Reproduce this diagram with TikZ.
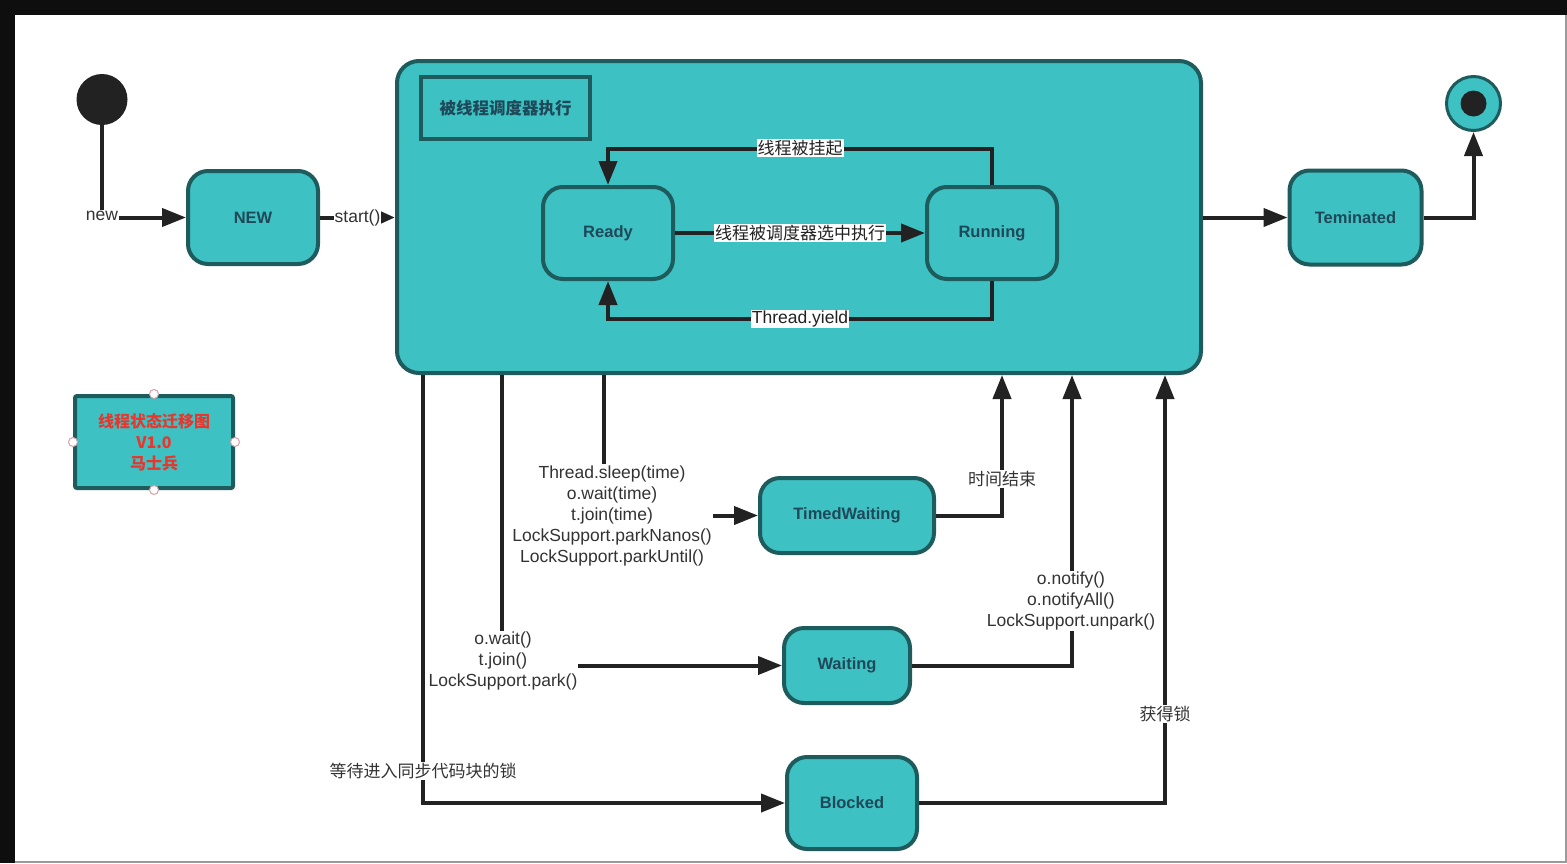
\documentclass[tikz,border=0pt]{standalone}
\usepackage{fontspec}
\setmainfont{Liberation Sans}
\newfontfamily\cjk{Noto Sans CJK SC}
\usetikzlibrary{arrows.meta}
\definecolor{tealfill}{HTML}{3EC1C3}
\definecolor{tealline}{HTML}{1E5B5D}
\definecolor{statetext}{HTML}{1F4858}
\definecolor{ink}{HTML}{222222}
\definecolor{labelgray}{HTML}{333333}
\definecolor{legendred}{HTML}{E8362C}
\definecolor{handlepink}{HTML}{D8A0A8}
\definecolor{framedark}{HTML}{0E0E0E}
\definecolor{edgegray}{HTML}{9A9A9A}

\tikzset{
  state/.style={draw=tealline, fill=tealfill, line width=4pt, rounded corners=20pt,
    text=statetext, font=\bfseries\fontsize{16.5}{19}\selectfont, inner sep=0pt},
  container/.style={draw=tealline, fill=tealfill, line width=4pt, rounded corners=22pt, inner sep=0pt},
  header/.style={draw=tealline, fill=tealfill, line width=4pt, inner sep=0pt,
    text=statetext, font=\cjk\bfseries\fontsize{16.5}{20}\selectfont},
  legendbox/.style={draw=tealline, fill=tealfill, line width=4pt, rounded corners=2pt, inner sep=0pt,
    text=legendred, align=center, font=\cjk\bfseries\fontsize{16}{21}\selectfont},
  handle/.style={circle, draw=handlepink, fill=white, line width=1pt, minimum size=9pt, inner sep=0pt},
  conn/.style={draw=ink, line width=4pt},
  arr/.style={conn, -{Triangle[length=24pt,width=18pt]}},
  arrsmall/.style={conn, -{Triangle[length=15pt,width=12pt]}},
  lbl/.style={font=\fontsize{17.5}{21}\selectfont, text=labelgray, align=center, inner sep=1pt, fill=white},
  inlbl/.style={font=\fontsize{17.5}{21}\selectfont, text=ink, align=center, inner sep=1pt, fill=white},
  cjklbl/.style={font=\cjk\fontsize{17}{21}\selectfont, text=labelgray, align=center, inner sep=1pt, fill=white},
  cjkinlbl/.style={font=\cjk\fontsize{17}{21}\selectfont, text=ink, align=center, inner sep=1pt, fill=white},
}

\begin{document}
\begin{tikzpicture}[x=1pt,y=-1pt]
  % frame and canvas
  \fill[framedark] (0,0) rectangle (1567,863);
  \fill[edgegray] (15,15) rectangle (1567,863);
  \fill[white] (15,15) rectangle (1565,861);
  \useasboundingbox (0,0) rectangle (1567,863);

  % pseudo states
  \node[circle, fill=ink, minimum size=51pt, inner sep=0pt] (init) at (102,99.5) {};
  \node[circle, draw=tealline, fill=tealfill, line width=3pt, minimum size=54pt, inner sep=0pt] (final) at (1473.5,103.5) {};
  \node[circle, fill=ink, minimum size=26pt, inner sep=0pt] (finaldot) at (final.center) {};

  % scheduler container
  \node[container, minimum width=804pt, minimum height=312pt] (run) at (799,217) {};
  \node[header, minimum width=169pt, minimum height=62pt] (hdr) at (505.5,108) {被线程调度器执行};

  % states
  \node[state, minimum width=130pt, minimum height=93pt] (new) at (253,217.5) {NEW};
  \node[state, minimum width=130pt, minimum height=92pt] (ready) at (608,233) {Ready};
  \node[state, minimum width=130pt, minimum height=92pt] (running) at (992,233) {Running};
  \node[state, minimum width=132pt, minimum height=94pt] (term) at (1355.5,217.5) {Teminated};
  \node[state, minimum width=174pt, minimum height=75pt] (tw) at (847,515.5) {TimedWaiting};
  \node[state, minimum width=126pt, minimum height=75pt] (wait) at (847,665.5) {Waiting};
  \node[state, minimum width=130pt, minimum height=92pt] (blk) at (852,803) {Blocked};

  % legend
  \node[legendbox, minimum width=158pt, minimum height=92pt] (leg) at (154,442) {线程状态迁移图\\V1.0\\马士兵};
  \node[handle] (hn) at (leg.north) {};
  \node[handle] (hs) at (leg.south) {};
  \node[handle] (hw) at (leg.west) {};
  \node[handle] (he) at (leg.east) {};

  % exits and entries on the container's lower edge
  \path (run.south) ++(-195,0) coordinate (o1)
        (run.south) ++(-297,0) coordinate (o2)
        (run.south) ++(-376,0) coordinate (o3)
        (run.south) ++(203,0) coordinate (i1)
        (run.south) ++(273,0) coordinate (i2)
        (run.south) ++(366,0) coordinate (i3);

  % creation and start
  \draw[arr] (init.south) |- (new.west);
  \node[lbl] (lnew) at (102,216) {new};
  \draw[arrsmall] (new.east) -- (new.east -| run.west)
    node[lbl, midway] (lstart) {start()};

  % inside the scheduler
  \draw[arr] (running.north) |- (800,149) -| (ready.north);
  \node[cjkinlbl] (lsusp) at (800,148) {线程被挂起};
  \draw[arr] (ready.east) -- (running.west)
    node[cjkinlbl, midway] (lsel) {线程被调度器选中执行};
  \draw[arr] (running.south) |- (800,319) -| (ready.south);
  \node[inlbl] (lyield) at (800,319) {Thread.yield};

  % termination
  \draw[arr] (term.west -| run.east) -- (term.west);
  \draw[arr] (term.east) -| (final.south);

  % leaving the scheduler
  \draw[arr] (o1) |- (tw.west);
  \node[lbl] (lsleep) at (612,515.5) {Thread.sleep(time)\\o.wait(time)\\t.join(time)\\LockSupport.parkNanos()\\LockSupport.parkUntil()};
  \draw[arr] (o2) |- (wait.west);
  \node[lbl] (lwait) at (503,661) {o.wait()\\t.join()\\LockSupport.park()};
  \draw[arr] (o3) |- (blk.west);
  \node[cjklbl] (lblock) at (423,771) {等待进入同步代码块的锁};

  % returning to the scheduler
  \draw[arr] (tw.east) -| (i1);
  \node[cjklbl] (ltime) at (1002,479) {时间结束};
  \draw[arr] (wait.east) -| (i2);
  \node[lbl] (lnotify) at (1071,601) {o.notify()\\o.notifyAll()\\LockSupport.unpark()};
  \draw[arr] (blk.east) -| (i3);
  \node[cjklbl] (llock) at (1165,714) {获得锁};
\end{tikzpicture}
\end{document}
